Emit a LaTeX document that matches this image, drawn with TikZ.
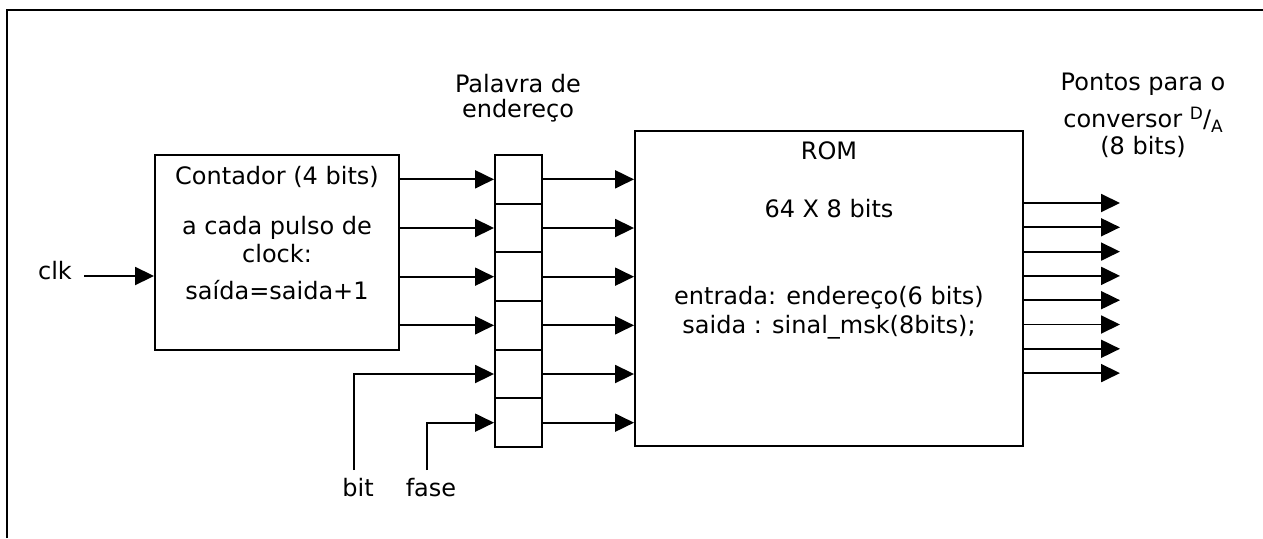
\documentclass[tikz,border=0pt]{standalone}
\usepackage{fontspec}
\setmainfont{DejaVu Sans}
\usetikzlibrary{arrows.meta}
\begin{document}
\begin{tikzpicture}[x=1pt,y=-1pt,
  lin/.style={line width=1.9pt},
  arr/.style={lin,-{Triangle[length=19pt,width=18pt]}},
  box/.style={draw,line width=1.9pt,inner sep=0pt},
  txt/.style={font=\fontsize{24}{29}\selectfont,inner sep=0pt,text height=18pt,text depth=5pt}]
\useasboundingbox (0,0) rectangle (1263,538);
% frame
\draw[line width=1.5pt] (7,538) -- (7,10) -- (1263,10);
% counter
\node[box,minimum width=244pt,minimum height=195pt] (cnt) at (277,252.5) {};
\node[txt] (c1) at (277,178) {Contador (4 bits)};
\node[txt] (c2) at (277,228) {a cada pulso de};
\node[txt] (c3) at (277,256) {clock:};
\node[txt] (c4) at (277,293) {saída=saida+1};
% register
\foreach \i in {1,...,6}
  \node[box,minimum width=47pt,minimum height=48.667pt] (r\i) at (518.5,{155+48.667*(\i-0.5)}) {};
\node[txt] (p1) at (518,86) {Palavra de};
\node[txt] (p2) at (518,111) {endereço};
% ROM
\node[box,minimum width=388pt,minimum height=315pt] (rom) at (829,288.5) {};
\node[txt] (m1) at (829,153) {ROM};
\node[txt] (m2) at (829,211) {64 X 8 bits};
\node[txt] (m3) at (829,298) {entrada: endereço(6 bits)};
\node[txt] (m4) at (829,327) {saida : sinal\_msk(8bits);};
% output label
\node[txt] (q1) at (1143,84) {Pontos para o};
\node[txt] (q2) at (1143,121) {conversor \raisebox{8pt}{\fontsize{17}{17}\selectfont D}/\raisebox{-5pt}{\fontsize{17}{17}\selectfont A}};
\node[txt] (q3) at (1143,148) {(8 bits)};
% counter -> register
\foreach \i in {1,...,4}
  \draw[arr] (cnt.east |- r\i.west) -- (r\i.west);
% register -> ROM
\foreach \i in {1,...,6}
  \draw[arr] (r\i.east) -- (r\i.east -| rom.west);
% ROM outputs
\foreach \k in {0,...,7}{
  \coordinate (o\k) at (1120,{203+24.3*\k});
  \draw[arr] (rom.east |- o\k) -- (o\k);
}
% clk
\node[txt] (clk) at (55,273) {clk};
\coordinate (clkin) at (84,276);
\draw[arr] (clkin) -- (clkin -| cnt.west);
% bit / fase
\node[txt] (bit) at (358,490) {bit};
\node[txt] (fase) at (431,490) {fase};
\coordinate (bitend) at (354,470);
\coordinate (faseend) at (427,470);
\draw[arr] (bitend) |- (r5.west);
\draw[arr] (faseend) |- (r6.west);
\end{tikzpicture}
\end{document}
